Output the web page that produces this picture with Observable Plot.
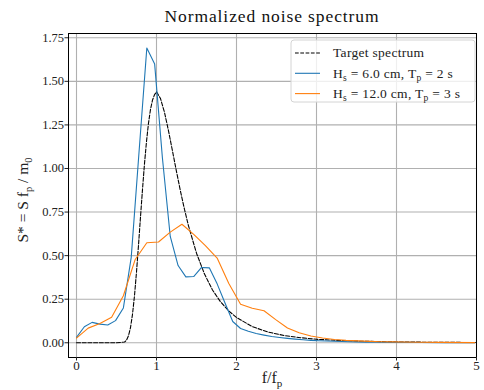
<!DOCTYPE html>
<html><head><meta charset="utf-8">
<script src="https://cdn.jsdelivr.net/npm/d3@7"></script>
<script src="https://cdn.jsdelivr.net/npm/@observablehq/plot@0.6"></script>
<style>
body{margin:0;background:#fff}
#chart svg{display:block}
#chart svg, #chart svg text{font-family:"Liberation Serif", "Times New Roman", serif !important;}
</style>
</head><body><div id="chart"></div>
<script>
// Target spectrum (dashed)
const targetX = [0,0.5,0.6,0.625,0.65,0.675,0.7,0.725,0.75,0.775,0.8,0.825,0.85,0.875,0.9,0.925,0.95,0.975,1.0,1.05,1.1,1.15,1.2,1.25,1.3,1.35,1.4,1.5,1.6,1.7,1.8,1.9,2.0,2.2,2.4,2.6,2.8,3.0,3.25,3.5,4.0,4.5,5.0];
const targetY = [0,0,0.004,0.015,0.04,0.087,0.163,0.27,0.406,0.56,0.722,0.88,1.028,1.155,1.26,1.339,1.392,1.423,1.44,1.401,1.322,1.216,1.10,0.982,0.869,0.765,0.671,0.514,0.394,0.303,0.235,0.184,0.145,0.092,0.061,0.041,0.029,0.020,0.014,0.0095,0.0048,0.0026,0.0016];
// Hs = 6.0 cm, Tp = 2 s
const blueX = [0,0.098,0.195,0.293,0.391,0.488,0.586,0.684,0.781,0.879,0.977,1.074,1.172,1.27,1.367,1.465,1.563,1.66,1.758,1.855,1.953,2.051,2.148,2.246,2.344,2.441,2.539,2.637,2.734,2.832,2.93,3.027,3.223,3.418,3.613,3.809,4.004,4.297,4.59,4.98];
const blueY = [0.031,0.092,0.117,0.107,0.102,0.127,0.2,0.49,1.09,1.691,1.599,1.06,0.61,0.443,0.378,0.38,0.432,0.43,0.338,0.23,0.122,0.082,0.066,0.053,0.044,0.036,0.03,0.025,0.021,0.017,0.014,0.012,0.009,0.006,0.004,0.003,0.002,0.0015,0.001,0.001];
// Hs = 12.0 cm, Tp = 3 s
const orangeX = [0,0.146,0.293,0.439,0.586,0.732,0.879,1.025,1.172,1.318,1.465,1.611,1.758,1.904,2.051,2.197,2.344,2.49,2.637,2.783,2.93,3.076,3.223,3.369,3.516,3.662,3.809,3.955,4.248,4.541,4.98];
const orangeY = [0.027,0.084,0.111,0.146,0.27,0.476,0.574,0.578,0.635,0.68,0.622,0.557,0.486,0.34,0.221,0.198,0.184,0.133,0.085,0.057,0.039,0.027,0.019,0.014,0.011,0.008,0.006,0.005,0.003,0.002,0.001];

const xTicks = [0,1,2,3,4,5];
const yTicks = [0,0.25,0.5,0.75,1.0,1.25,1.5,1.75];
const colors = ["#000000","#1f77b4","#ff7f0e"];

const toRows = (xs, ys) => xs.map((x,i)=>({x, y: ys[i]}));
const target = toRows(targetX, targetY);
const blue = toRows(blueX, blueY);
const orange = toRows(orangeX, orangeY);

const FONT = "Liberation Serif, Times New Roman, serif";
const W = 484, H = 390, ML = 68, MR = 8, MT = 33, MB = 33;

const svg = Plot.plot({
  width: W, height: H,
  marginLeft: ML, marginRight: MR, marginTop: MT, marginBottom: MB,
  style: {fontFamily: FONT, background: "#fff", color: "#222"},
  x: {domain: [-0.1, 5], label: null},
  y: {domain: [-0.0845, 1.7745], label: null},
  marks: [
    Plot.gridX(xTicks, {stroke: "#b0b0b0", strokeOpacity: 1, strokeWidth: 1.1}),
    Plot.gridY(yTicks, {stroke: "#b0b0b0", strokeOpacity: 1, strokeWidth: 1.1}),
    Plot.line(target, {x: "x", y: "y", stroke: colors[0], strokeWidth: 1.1, strokeDasharray: "4,1.7"}),
    Plot.line(blue, {x: "x", y: "y", stroke: colors[1], strokeWidth: 1.1}),
    Plot.line(orange, {x: "x", y: "y", stroke: colors[2], strokeWidth: 1.1}),
    Plot.frame({stroke: "#000", strokeWidth: 1}),
    Plot.axisX(xTicks, {tickSize: 3.5, tickPadding: 0, fontSize: 13, fontFamily: FONT, tickFormat: d => String(d), label: null}),
    Plot.axisY(yTicks, {tickSize: 3.5, tickPadding: 1, fontSize: 12.5, fontFamily: FONT, tickFormat: d3.format(".2f"), label: null})
  ]
});
document.getElementById("chart").appendChild(svg);

const s = d3.select(svg);
const cx = ML + (W - ML - MR) / 2;
// Title
s.append("text").attr("x", cx).attr("y", 22).attr("text-anchor", "middle")
  .attr("font-size", 17.5).attr("letter-spacing", 0.9).attr("fill", "#111")
  .text("Normalized noise spectrum");
// x label
const xl = s.append("text").attr("x", cx).attr("y", 383).attr("text-anchor", "middle")
  .attr("font-size", 16).attr("fill", "#222");
xl.append("tspan").text("f/f");
xl.append("tspan").attr("font-size", 11).attr("dy", 4).text("p");
// y label
const yl = s.append("text").attr("transform", `translate(28,200) rotate(-90)`)
  .attr("text-anchor", "middle").attr("font-size", 15.5).attr("fill", "#222");
yl.append("tspan").text("S* = S f");
yl.append("tspan").attr("font-size", 10.5).attr("dy", 4).text("p");
yl.append("tspan").attr("dy", -4).text(" / m");
yl.append("tspan").attr("font-size", 10.5).attr("dy", 4).text("0");

// Legend
const lg = s.append("g");
lg.append("rect").attr("x", 291).attr("y", 40).attr("width", 184).attr("height", 62).attr("rx", 3)
  .attr("fill", "#fff").attr("fill-opacity", 0.8).attr("stroke", "#d4d4d4");
const rowsY = [53, 73.3, 93.6];
const labelParts = [
  [["Target spectrum", null]],
  [["H", null], ["s", "sub"], [" = 6.0 cm, T", null], ["p", "sub"], [" = 2 s", null]],
  [["H", null], ["s", "sub"], [" = 12.0 cm, T", null], ["p", "sub"], [" = 3 s", null]]
];
rowsY.forEach((yy, i) => {
  lg.append("line").attr("x1", 295).attr("x2", 320).attr("y1", yy).attr("y2", yy)
    .attr("stroke", colors[i]).attr("stroke-width", 1.1)
    .attr("stroke-dasharray", i === 0 ? "3.7,1.6" : null);
  const t = lg.append("text").attr("x", 333).attr("y", yy + 4.3).attr("text-anchor", "start")
    .attr("font-size", 13.5).attr("letter-spacing", 0.3).attr("fill", "#222");
  let sub = false;
  labelParts[i].forEach(([txt, kind]) => {
    const ts = t.append("tspan").text(txt);
    if (kind === "sub") { ts.attr("font-size", 9.5).attr("dy", 3); sub = true; }
    else if (sub) { ts.attr("dy", -3); sub = false; }
  });
});
</script>
</body></html>
